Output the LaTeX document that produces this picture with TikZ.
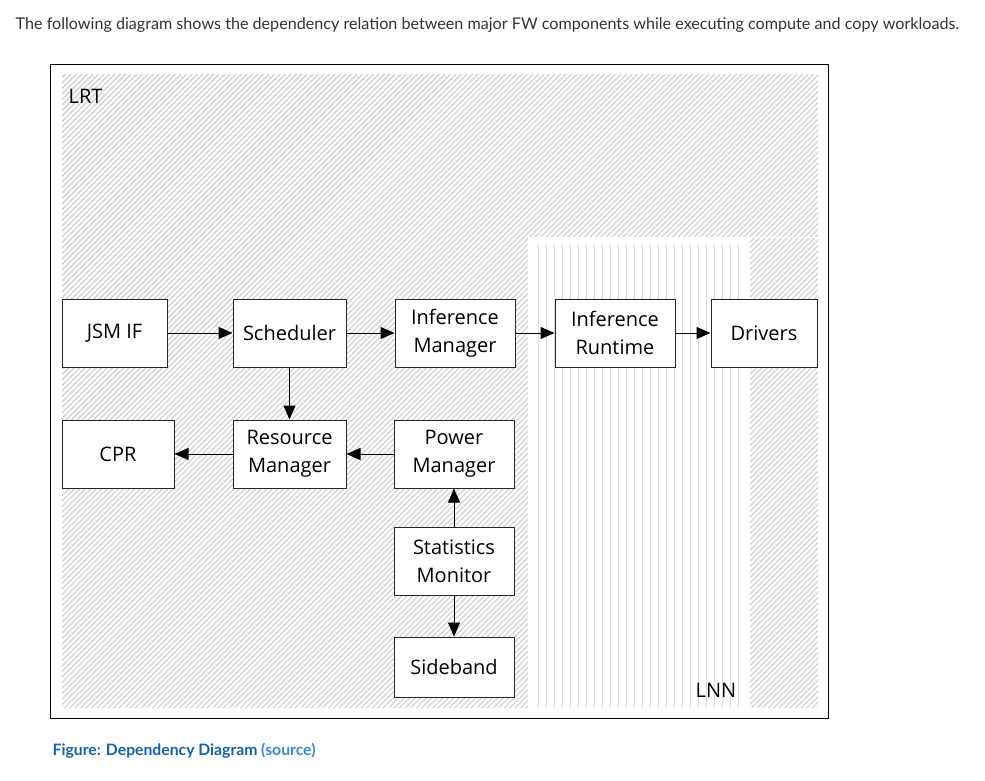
\documentclass[tikz,border=0pt]{standalone}
\usepackage{fontspec}
\setmainfont{Open Sans}
\newfontfamily\notefont{Lato}
\usetikzlibrary{arrows.meta}

\definecolor{hatchgray}{HTML}{CDCDCD}
\definecolor{stripegray}{HTML}{DCDCDC}
\definecolor{captionblue}{HTML}{1463A5}
\definecolor{sourceblue}{HTML}{3D87C9}

\begin{document}
\begin{tikzpicture}[
    x=0.75pt, y=-0.75pt,
    comp/.style={rectangle, draw=black!85, fill=white, line width=0.75pt, minimum height=51pt, inner sep=0pt, align=center, font=\fontsize{15}{21}\selectfont},
    arrow/.style={line width=0.75pt, -{Triangle[length=10.5pt,width=9pt]}},
    region/.style={font=\fontsize{15}{18}\selectfont}
]
\useasboundingbox (0,0) rectangle (985,781);

% LRT hatching
\begin{scope}
\clip (62,75) rectangle (818,708);
\foreach \a in {-640,-634.5,...,820}
    \draw[hatchgray, line width=0.8pt] (\a,708) -- ++(700,-700);
\end{scope}

% LNN stripes
\fill[white] (528,237) rectangle (750,708);
\draw[white, line width=0.75pt] (750,237) -- (818,237);
\foreach \x in {538,546,...,738}
    \draw[stripegray, line width=0.75pt] (\x,245) -- (\x,708);

% frame
\draw[line width=0.75pt] (50,65) rectangle (828,718);

\node[region, anchor=west] (lrt) at (64,96) {LRT};
\node[region] (lnn) at (716,690) {LNN};

% components
\node[comp, minimum width=78.75pt] (jsm) at (114.5,333) {JSM IF};
\node[comp, minimum width=84.75pt] (sched) at (289.5,333) {Scheduler};
\node[comp, minimum width=90pt] (infmgr) at (455,333) {Inference\\Manager};
\node[comp, minimum width=90pt] (infrt) at (615,333) {Inference\\Runtime};
\node[comp, minimum width=79.5pt] (drv) at (764,333) {Drivers};
\node[comp, minimum width=84pt] (cpr) at (118,454) {CPR};
\node[comp, minimum width=84.75pt] (resmgr) at (289.5,454) {Resource\\Manager};
\node[comp, minimum width=90pt] (pwrmgr) at (454,454) {Power\\Manager};
\node[comp, minimum width=90pt] (stats) at (454,561) {Statistics\\Monitor};
\node[comp, minimum width=90pt, minimum height=45pt] (sideband) at (454,667) {Sideband};

% dependencies
\draw[arrow] (jsm) -- (sched);
\draw[arrow] (sched) -- (infmgr);
\draw[arrow] (infmgr) -- (infrt);
\draw[arrow] (infrt) -- (drv);
\draw[arrow] (sched) -- (resmgr);
\draw[arrow] (resmgr) -- (cpr);
\draw[arrow] (pwrmgr) -- (resmgr);
\draw[arrow] (stats) -- (pwrmgr);
\draw[arrow] (stats) -- (sideband);

% text around the figure
\node[anchor=west, text=black!80, font=\notefont\fontsize{12.1}{14}\selectfont] (intro) at (11,25) {The following diagram shows the dependency relation between major FW components while executing compute and copy workloads.};
\node[anchor=west, text=captionblue, font=\notefont\bfseries\fontsize{11.8}{14}\selectfont] (caption) at (48,751) {Figure: Dependency Diagram \textcolor{sourceblue}{(source)}};
\end{tikzpicture}
\end{document}
